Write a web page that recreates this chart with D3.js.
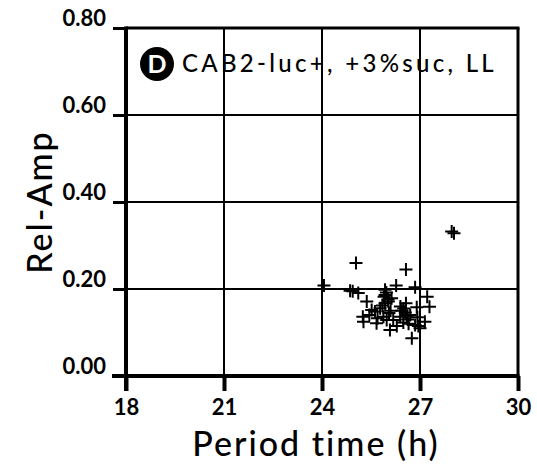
<!DOCTYPE html>
<html><head><meta charset="utf-8">
<script src="https://cdn.jsdelivr.net/npm/d3@7"></script>
<style>body{margin:0;background:#fff}svg{display:block}</style>
</head><body>
<script>
const xTicks = [18, 21, 24, 27, 30];
const yTicks = [0.0, 0.2, 0.4, 0.6, 0.8];
const xTickLabels = ["18", "21", "24", "27", "30"];
const yTickLabels = ["0.00", "0.20", "0.40", "0.60", "0.80"];
const periods = [27.97, 28.04, 25.04, 26.57, 24.06, 24.86, 24.94, 25.11, 26.27, 26.85,
  25.93, 25.97, 25.90, 26.02, 27.22, 27.29, 25.37, 26.90, 26.57, 25.52,
  25.62, 25.25, 25.27, 25.67, 25.88, 25.98, 26.08, 26.29, 26.49, 26.75,
  27.00, 27.15, 26.85, 26.50, 26.55, 26.60, 26.45, 26.62, 25.78, 25.93,
  26.13, 25.93, 26.03, 26.18, 26.39, 26.95, 25.45, 25.70, 26.10, 26.70,
  26.40, 25.85, 26.05, 26.65, 26.92];
const amps = [0.332, 0.328, 0.260, 0.245, 0.208, 0.196, 0.195, 0.191, 0.208, 0.204,
  0.198, 0.192, 0.182, 0.176, 0.182, 0.159, 0.171, 0.158, 0.167, 0.152,
  0.148, 0.136, 0.125, 0.121, 0.136, 0.129, 0.106, 0.115, 0.123, 0.087,
  0.110, 0.125, 0.117, 0.155, 0.146, 0.138, 0.150, 0.130, 0.156, 0.167,
  0.179, 0.186, 0.171, 0.129, 0.136, 0.115, 0.140, 0.133, 0.150, 0.140,
  0.160, 0.162, 0.145, 0.120, 0.135];
const xTitle = "Period time (h)";
const yTitle = "Rel-Amp";
const panelLetter = "D";
const panelText = "CAB2-luc+, +3%suc, LL";

const W = 537, H = 470;
const L = 126, R = 518, T = 28, B = 376;
const svg = d3.select("body").append("svg").attr("width", W).attr("height", H);
const x = d3.scaleLinear().domain([18, 30]).range([L, R]);
const y = d3.scaleLinear().domain([0, 0.8]).range([B, T]);
const font = "Lato, 'Open Sans', sans-serif";

// grid
const g = svg.append("g");
g.selectAll("line.vg").data(xTicks.slice(1, -1)).join("line")
  .attr("x1", d => x(d)).attr("x2", d => x(d)).attr("y1", T).attr("y2", B)
  .attr("stroke", "#000").attr("stroke-width", 2);
g.selectAll("line.hg").data(yTicks.slice(1, -1)).join("line")
  .attr("y1", d => y(d)).attr("y2", d => y(d)).attr("x1", L).attr("x2", R)
  .attr("stroke", "#000").attr("stroke-width", 2);
// frame top/right
g.append("line").attr("x1", L).attr("x2", R + 1.5).attr("y1", T).attr("y2", T).attr("stroke", "#000").attr("stroke-width", 3);
g.append("line").attr("x1", R).attr("x2", R).attr("y1", T).attr("y2", B).attr("stroke", "#000").attr("stroke-width", 3);

// axes
const xAxis = d3.axisBottom(x).tickValues(xTicks).tickFormat((d, i) => xTickLabels[i]).tickSize(15).tickSizeOuter(0).tickPadding(8);
const gx = svg.append("g").attr("transform", `translate(0,${B})`).call(xAxis);
gx.select(".domain").attr("stroke-width", 4).attr("d", `M${L - 14},0H${R + 1.5}`);
gx.selectAll(".tick line").attr("stroke-width", 4);
gx.selectAll(".tick text").attr("font-family", font).attr("font-weight", "bold").attr("font-size", 22).attr("fill", "#000");

const yAxis = d3.axisLeft(y).tickValues(yTicks).tickFormat((d, i) => yTickLabels[i]).tickSize(13).tickSizeOuter(0).tickPadding(7);
const gy = svg.append("g").attr("transform", `translate(${L},0)`).call(yAxis);
gy.select(".domain").attr("stroke-width", 4).attr("d", `M0,${T - 1.5}V${B + 15}`);
gy.selectAll(".tick line").attr("stroke-width", 3);
gy.selectAll(".tick text").attr("font-family", font).attr("font-weight", "bold").attr("font-size", 22).attr("fill", "#000").attr("dy", "-0.1em");

// points
const s = 6.5;
const pts = svg.append("g");
periods.forEach((p, i) => {
  const cx = x(p), cy = y(amps[i]);
  pts.append("path").attr("d", `M${cx - s},${cy}H${cx + s}M${cx},${cy - s}V${cy + s}`)
    .attr("stroke", "#000").attr("stroke-width", 2).attr("fill", "none");
});

// titles
svg.append("text").attr("x", 316).attr("y", 456).attr("text-anchor", "middle")
  .attr("font-family", font).attr("font-weight", 500).attr("font-size", 34).attr("letter-spacing", 2).text(xTitle);
svg.append("text").attr("transform", `translate(52,${(T + B) / 2}) rotate(-90)`).attr("text-anchor", "middle")
  .attr("font-family", font).attr("font-weight", 500).attr("font-size", 34).attr("letter-spacing", 2).text(yTitle);

// panel label
svg.append("circle").attr("cx", 157).attr("cy", 64).attr("r", 17).attr("fill", "#000");
svg.append("text").attr("x", 157).attr("y", 73).attr("text-anchor", "middle").attr("fill", "#fff")
  .attr("font-family", font).attr("font-weight", "bold").attr("font-size", 25).text(panelLetter);
svg.append("text").attr("x", 182).attr("y", 72).attr("font-family", font).attr("font-weight", 500)
  .attr("font-size", 24).attr("letter-spacing", 3.3).text(panelText);
</script>
</body></html>
